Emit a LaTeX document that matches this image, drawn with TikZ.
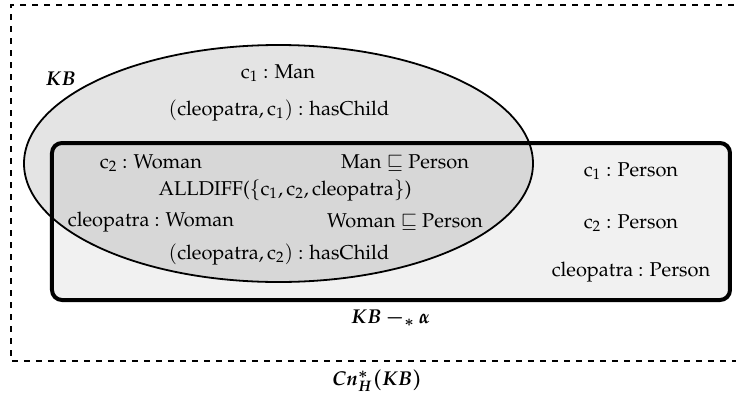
\documentclass[tikz,border=0pt]{standalone}
\usepackage[T1]{fontenc}
\usepackage{amssymb}
\usepackage{mathpazo}
\usepackage{bm}
\begin{document}
\begin{tikzpicture}[x=0.5pt,y=-0.5pt,
  txtlbl/.style={inner sep=0pt, font=\fontsize{10}{12}\selectfont},
  outerbox/.style={draw, dashed, line width=0.8pt},
  kbminus/.style={draw, line width=2pt, rounded corners=5pt, fill=black!5.5},
  kbell/.style={draw, line width=0.9pt, fill=black, fill opacity=0.106}]
\useasboundingbox (0,0) rectangle (736,397);
\draw[outerbox] (746,5) -- (11,5) -- (11,361) -- (746,361);
\draw[kbminus] (52,143) rectangle (730,300);
\draw[kbell] (278.5,163.5) ellipse (127.25pt and 59.25pt);
\node[txtlbl] (kblabel) at (61,79) {$\bm{KB}$};
\node[txtlbl] (c1man) at (278,73) {c$_1$ : Man};
\node[txtlbl] (hc1) at (279,110) {$(\mathrm{cleopatra},\mathrm{c}_1)$ : hasChild};
\node[txtlbl] (c2w) at (151,163) {c$_2$ : Woman};
\node[txtlbl] (mp) at (405,163) {Man $\sqsubseteq$ Person};
\node[txtlbl] (ad) at (285,190) {ALLDIFF($\{\mathrm{c}_1,\mathrm{c}_2,\mathrm{cleopatra}\}$)};
\node[txtlbl] (cw) at (151,222) {cleopatra : Woman};
\node[txtlbl] (wp) at (405,222) {Woman $\sqsubseteq$ Person};
\node[txtlbl] (hc2) at (279,254) {$(\mathrm{cleopatra},\mathrm{c}_2)$ : hasChild};
\node[txtlbl] (c1p) at (631,171) {c$_1$ : Person};
\node[txtlbl] (c2p) at (631,223) {c$_2$ : Person};
\node[txtlbl] (cp) at (631,272) {cleopatra : Person};
\node[txtlbl] (kbm) at (391,318) {$\bm{KB -_{*} \alpha}$};
\node[txtlbl] (cn) at (377,381) {$\bm{Cn^{*}_{H}(KB)}$};
\end{tikzpicture}
\end{document}
